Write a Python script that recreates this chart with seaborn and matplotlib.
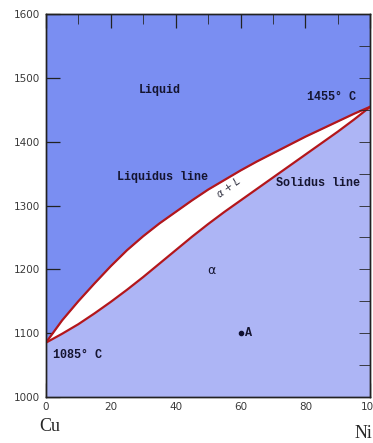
import numpy as np
import pandas as pd
import matplotlib
matplotlib.use("Agg")
import matplotlib.pyplot as plt
import seaborn as sns

# composition (wt% Ni) and phase boundary temperatures (deg C)
composition = [0, 5, 10, 15, 20, 25, 30, 35, 40, 45, 50,
               55, 60, 65, 70, 75, 80, 85, 90, 95, 100]
liquidus = [1085, 1120, 1150, 1178, 1205, 1230, 1252, 1272, 1290, 1308, 1325,
            1340, 1355, 1369, 1382, 1395, 1408, 1420, 1432, 1444, 1455]
solidus = [1085, 1099, 1114, 1131, 1149, 1168, 1188, 1209, 1230, 1251, 1271,
           1290, 1308, 1326, 1344, 1362, 1380, 1398, 1416, 1435, 1455]

point_a = (60, 1100)
x_ticks = [0, 20, 40, 60, 80, 100]
y_ticks = [1000, 1100, 1200, 1300, 1400, 1500, 1600]

liquid_blue = "#7a8ef2"
solid_blue = "#adb5f5"
line_red = "#b3161b"

df = pd.DataFrame({"comp": composition, "liquidus": liquidus, "solidus": solidus})

sns.set_style("ticks")
fig = plt.figure(figsize=(3.73, 4.43), dpi=100)
ax = fig.add_axes([0.123, 0.104, 0.870, 0.864])

ax.set_xlim(0, 100)
ax.set_ylim(1000, 1600)

# phase regions
ax.fill_between([0, 100], 1000, 1600, color=liquid_blue, zorder=0, lw=0)
ax.fill_between(df["comp"], 1000, df["solidus"], color=solid_blue, zorder=1, lw=0)
ax.fill_between(df["comp"], df["solidus"], df["liquidus"], color="white", zorder=1, lw=0)

sns.lineplot(data=df, x="comp", y="liquidus", color=line_red, lw=1.6, ax=ax, zorder=3)
sns.lineplot(data=df, x="comp", y="solidus", color=line_red, lw=1.6, ax=ax, zorder=3)

ax.plot(*point_a, "o", color="#101030", ms=3, zorder=4)

lab = dict(family="Liberation Mono", fontweight="bold", fontsize=8.5, color="#151530", zorder=5)
ax.text(35.2, 1481, "Liquid", ha="center", va="center", **lab)
ax.text(88, 1470, "1455° C", ha="center", va="center", **lab)
ax.text(36, 1345, "Liquidus line", ha="center", va="center", **lab)
ax.text(84, 1335, "Solidus line", ha="center", va="center", **lab)
ax.text(9.6, 1066, "1085° C", ha="center", va="center", **lab)
ax.text(51, 1198, "α", ha="center", va="center", fontsize=9, color="#151530", zorder=5)
ax.text(62.5, 1100, "A", ha="center", va="center", **lab)
ax.text(56.5, 1327, "α + L", ha="center", va="center", fontsize=7, style="italic",
        rotation=36, color="#303040", zorder=5)

ax.set_xticks(x_ticks)
ax.set_yticks(y_ticks)
ax.set_xticks(range(0, 101, 10), minor=True)
ax.tick_params(axis="both", which="major", direction="in", length=10, width=0.9,
               labelsize=7.5, color="#222222", labelcolor="#3a3a3a", top=True, pad=4)
ax.tick_params(axis="x", which="minor", direction="in", length=7, width=0.6, top=True)
ax.set_xlabel("")
ax.set_ylabel("")

# right side ticks every 50
ax2 = ax.twinx()
ax2.set_ylim(1000, 1600)
ax2.set_yticks(range(1050, 1600, 50))
ax2.tick_params(axis="y", direction="in", length=8, width=0.6, labelright=False)

for a in (ax, ax2):
    for s in a.spines.values():
        s.set_color("#222222")
        s.set_linewidth(1.0)

fig.text(0.105, 0.038, "Cu", family="Liberation Serif", fontsize=13, ha="left", va="center")
fig.text(0.95, 0.022, "Ni", family="Liberation Serif", fontsize=13, ha="left", va="center")

fig.savefig("out.png", dpi=100)
